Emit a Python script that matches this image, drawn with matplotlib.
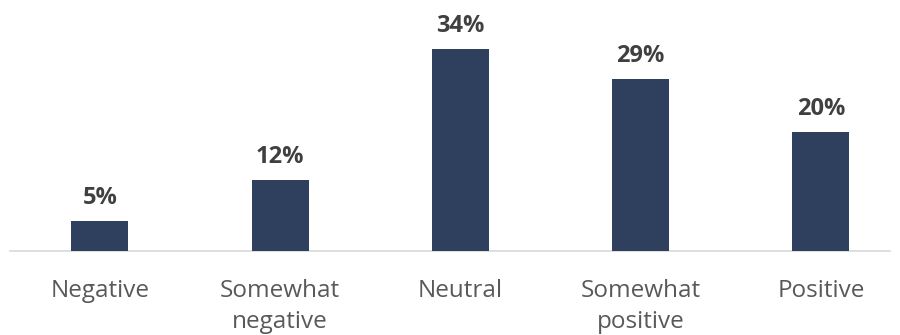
import matplotlib
matplotlib.use("Agg")
import matplotlib.pyplot as plt

categories = ["Negative", "Somewhat\nnegative", "Neutral", "Somewhat\npositive", "Positive"]
values = [5, 12, 34, 29, 20]

plt.rcParams['font.family'] = ['Open Sans', 'DejaVu Sans']

fig = plt.figure(figsize=(9, 3.35), dpi=100)
ax = fig.add_axes([10/900, 84/335, 880/900, 237.6/335])
x = list(range(len(categories)))
bars = ax.bar(x, values, width=0.316, color="#2E405E", zorder=3)
ax.set_xlim(-0.499, 4.383)
ax.set_ylim(0, 40)
for xi, v in zip(x, values):
    ax.annotate(f"{v}%", (xi, v), xytext=(0, 8), textcoords="offset points",
                ha="center", va="bottom", fontsize=17, fontweight="bold", color="#404040")
ax.set_xticks(x)
ax.set_xticklabels(categories, fontsize=17.5, color="#595959", linespacing=1.4)
ax.tick_params(axis="x", length=0, pad=20)
ax.set_yticks([])
for s in ["top", "right", "left"]:
    ax.spines[s].set_visible(False)
ax.spines["bottom"].set_color("#D9D9D9")
ax.spines["bottom"].set_linewidth(1.2)
fig.savefig("out.png", dpi=100)
